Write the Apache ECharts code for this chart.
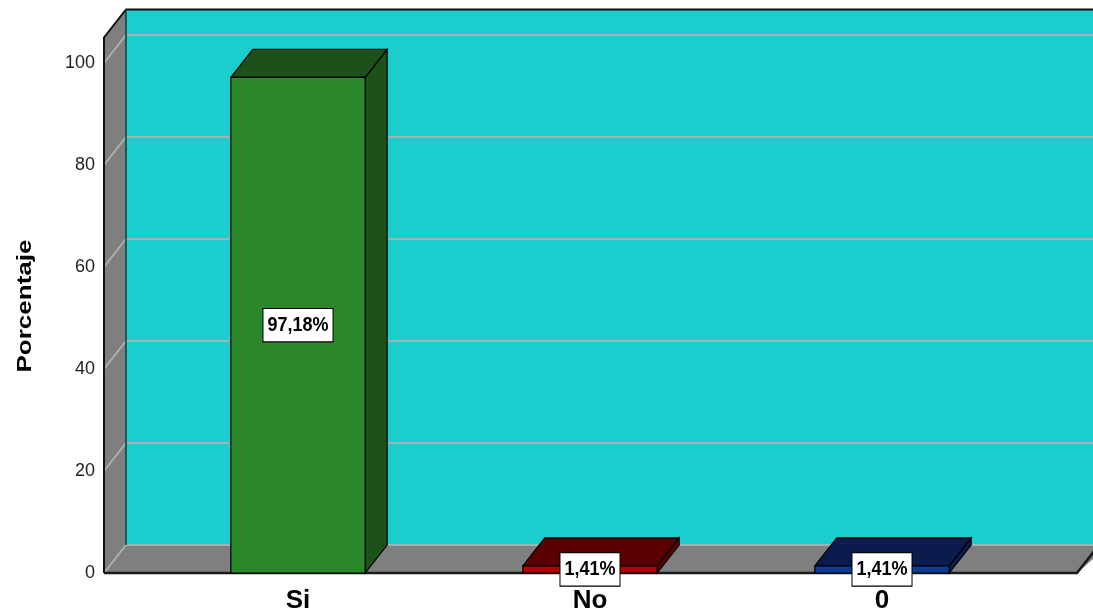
<!DOCTYPE html>
<html>
<head>
<meta charset="utf-8">
<script src="https://cdn.jsdelivr.net/npm/echarts@6/dist/echarts.min.js"></script>
<style>
  html, body { margin: 0; padding: 0; background: #ffffff; }
  #chart { width: 1093px; height: 614px; }
</style>
</head>
<body>
<div id="chart"></div>
<script>
// Respuestas y porcentajes
const categories = ['Si', 'No', '0'];
const percentages = [97.18, 1.41, 1.41];
const yTicks = [0, 20, 40, 60, 80, 100];
const yAxisTitle = 'Porcentaje';

// Estilo de cada barra (cara frontal / cara superior y lateral)
const frontColors = ['#2a872a', '#b40000', '#0d3a96'];
const shadeColors = ['#1c521a', '#5a0000', '#0a1b4d'];

// Perspectiva del "3D": desplazamiento de profundidad
const DX = 22, DY = 28;
const WALL_GAP = 48;      // distancia entre el eje frontal y el primer hueco de categoría
const FLOOR_EXTRA = 49;   // prolongación del suelo a la derecha
const WALL_TOP = 105;     // altura de las paredes en unidades del eje

const chart = echarts.init(document.getElementById('chart'), null, { renderer: 'canvas' });

function fmt(v) {
  return v.toFixed(2).replace('.', ',') + '%';
}

function renderBackdrop(params, api) {
  const cs = params.coordSys;
  const W = api.getWidth();
  const y = v => api.coord([0, v])[1];
  const wx = cs.x - WALL_GAP;
  const fx = cs.x + cs.width + FLOOR_EXTRA;
  const y0 = y(0), yt = y(WALL_TOP);
  const children = [];
  // pared del fondo
  children.push({ type: 'rect', shape: { x: wx + DX, y: yt - DY, width: W - wx - DX + 5, height: y0 - yt },
    style: { fill: '#1ccdcd' } });
  // pared izquierda
  children.push({ type: 'polygon', shape: { points: [[wx, yt], [wx + DX, yt - DY], [wx + DX, y0 - DY], [wx, y0]] },
    style: { fill: '#7f7f7f' } });
  // suelo
  children.push({ type: 'polygon', shape: { points: [[wx, y0], [wx + DX, y0 - DY], [fx + DX + 10, y0 - DY], [fx, y0]] },
    style: { fill: '#7f7f7f' } });
  // líneas de cuadrícula
  yTicks.forEach(v => {
    const yy = y(v);
    children.push({ type: 'polyline', shape: { points: [[wx, yy], [wx + DX, yy - DY], [W + 2, yy - DY]] },
      style: { stroke: '#a4b2b2', lineWidth: 2, fill: null } });
  });
  // contornos
  children.push({ type: 'polyline', shape: { points: [[wx, y0], [wx, yt], [wx + DX, yt - DY], [W + 2, yt - DY]] },
    style: { stroke: '#111', lineWidth: 2, fill: null } });
  children.push({ type: 'line', shape: { x1: wx + DX, y1: yt - DY, x2: wx + DX, y2: y0 - DY },
    style: { stroke: '#0d3d3d', lineWidth: 1.5 } });
  children.push({ type: 'polyline', shape: { points: [[wx, y0], [fx, y0], [fx + DX, y0 - DY]] },
    style: { stroke: '#1a1a1a', lineWidth: 2.5, fill: null } });
  return { type: 'group', children };
}

function renderBar(params, api) {
  const i = api.value(0);
  const v = api.value(1);
  const top = api.coord([i, v]);
  const base = api.coord([i, 0]);
  const half = api.size([1, 0])[0] * 0.46 / 2;
  const xl = top[0] - half, xr = top[0] + half;
  const yt = top[1], yb = base[1];
  const idx = params.dataIndex;
  const edge = { stroke: '#000', lineWidth: 1.2 };
  return {
    type: 'group',
    children: [
      { type: 'polygon', shape: { points: [[xr, yt], [xr + DX, yt - DY], [xr + DX, yb - DY], [xr, yb]] },
        style: Object.assign({ fill: shadeColors[idx] }, edge) },
      { type: 'polygon', shape: { points: [[xl, yt], [xl + DX, yt - DY], [xr + DX, yt - DY], [xr, yt]] },
        style: Object.assign({ fill: shadeColors[idx] }, edge) },
      { type: 'rect', shape: { x: xl, y: yt, width: xr - xl, height: yb - yt },
        style: Object.assign({ fill: frontColors[idx] }, edge) },
      { type: 'text', x: top[0], y: (yt + yb) / 2, scaleY: 1.15, z2: 10,
        style: { text: fmt(v), fontFamily: 'Liberation Sans, Arial, sans-serif', fontWeight: 'bold', fontSize: 18,
          fill: '#000', align: 'center', verticalAlign: 'middle', lineHeight: 18,
          backgroundColor: '#fff', borderColor: '#000', borderWidth: 1, padding: [5, 4, 5, 4] } }
    ]
  };
}

const option = {
  animation: false,
  backgroundColor: '#ffffff',
  grid: { left: 152, right: 65, top: 63, bottom: 41, containLabel: false },
  xAxis: {
    type: 'category',
    data: categories,
    axisLine: { show: false },
    axisTick: { show: false },
    axisLabel: { fontFamily: 'Liberation Sans, Arial, sans-serif', fontWeight: 'bold', fontSize: 26,
      color: '#000', margin: 15 }
  },
  yAxis: {
    type: 'value',
    min: 0, max: 100, interval: 20,
    offset: WALL_GAP,
    axisLine: { show: false },
    axisTick: { show: false },
    splitLine: { show: false },
    axisLabel: { fontFamily: 'Liberation Sans, Arial, sans-serif', fontSize: 18, color: '#222', margin: 9,
      padding: [4, 0, 0, 0] }
  },
  graphic: [{
    type: 'text', x: 25, y: 306, rotation: Math.PI / 2, scaleX: 1.3,
    style: { text: yAxisTitle, fontFamily: 'Liberation Sans, Arial, sans-serif', fontWeight: 'bold', fontSize: 20,
      fill: '#000', align: 'center', verticalAlign: 'middle' }
  }],
  series: [
    { type: 'custom', name: 'fondo', z: 1, silent: true, clip: false,
      data: [[0, 0]], renderItem: renderBackdrop },
    { type: 'custom', name: yAxisTitle, z: 2, clip: false,
      data: percentages.map((v, i) => [i, v]), renderItem: renderBar }
  ]
};

chart.setOption(option);
</script>
</body>
</html>
